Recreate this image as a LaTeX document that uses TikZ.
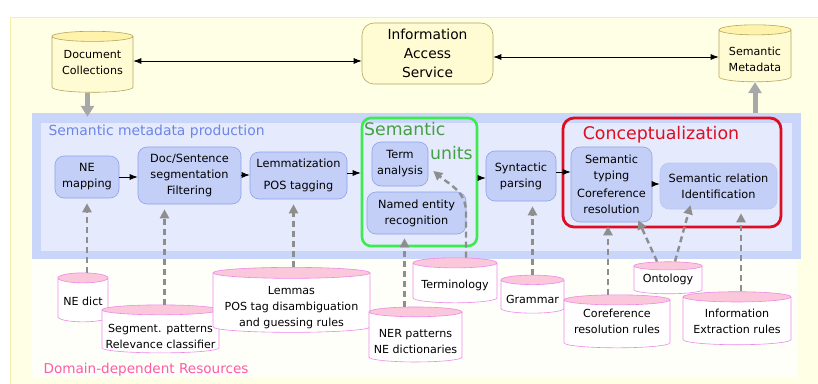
\documentclass[tikz,border=0pt]{standalone}
\usepackage{fontspec}
\setmainfont{DejaVu Sans}
\usetikzlibrary{arrows.meta,shapes.geometric}

\definecolor{bgyellow}{HTML}{FFFFE6}
\definecolor{bgline}{HTML}{F2F0A8}
\definecolor{bandblue}{HTML}{C9D5F9}
\definecolor{bandinner}{HTML}{E5EAFC}
\definecolor{reswhite}{HTML}{FFFFFA}
\definecolor{procfill}{HTML}{C3CFF7}
\definecolor{procline}{HTML}{8CA2EC}
\definecolor{topfill}{HTML}{FFFBD2}
\definecolor{topend}{HTML}{FFF3AC}
\definecolor{topline}{HTML}{B4A660}
\definecolor{resend}{HTML}{FAC8DA}
\definecolor{resline}{HTML}{EE88E8}
\definecolor{unitgreen}{HTML}{3CEB50}
\definecolor{unittext}{HTML}{45A045}
\definecolor{conceptred}{HTML}{DD0E22}
\definecolor{prodblue}{HTML}{6C86E8}
\definecolor{domainpink}{HTML}{FF5AA5}
\definecolor{biggray}{HTML}{A8A8A8}
\definecolor{feedgray}{HTML}{8E8E8E}

\tikzset{
    proc/.style={draw=procline, fill=procfill, rounded corners=9pt, line width=0.6pt,
        align=center, inner sep=0pt, font=\fontsize{11.3}{16}\selectfont},
    store/.style={cylinder, shape border rotate=90, cylinder uses custom fill,
        line width=0.6pt, inner sep=0pt},
    cylsize/.style 2 args={inner xsep=#1*0.5, minimum width=#1, minimum height=#2},
    topstore/.style={store, draw=topline, cylinder body fill=topfill, cylinder end fill=topend},
    resstore/.style={store, draw=resline, cylinder body fill=white, cylinder end fill=resend},
    storetext/.style={align=center, inner sep=0pt, yshift=#1, font=\fontsize{11.1}{16}\selectfont},
    flow/.style={-{Latex[length=8pt,width=6pt]}, line width=0.8pt},
    twoway/.style={{Latex[length=8pt,width=6pt]}-{Latex[length=8pt,width=6pt]}, line width=0.8pt},
    bigup/.style={draw=biggray, line width=5pt, -{Triangle[length=11pt,width=13pt]}},
    feed/.style={draw=feedgray, line width=2.4pt, dash pattern=on 6pt off 4pt,
        -{Triangle[length=9pt,width=9pt]}},
}

\begin{document}
\begin{tikzpicture}[x=1pt,y=-1pt]
    \useasboundingbox (0,0) rectangle (818,383);
    \fill[white] (0,0) rectangle (818,383);
    \draw[fill=bgyellow, draw=bgline, line width=1pt] (10,17) rectangle (822,388);
    % bands
    \node[fill=bandblue, minimum width=769, minimum height=146, inner sep=0pt] (meta-band) at (416.5,186) {};
    \fill[bandinner] (41,123) rectangle (792,251);
    \fill[reswhite] (32,259) rectangle (797,377);
    \node[anchor=west, text=prodblue, font=\fontsize{13.9}{16}\selectfont] (prod-title) at (45,132) {Semantic metadata production};
    \node[anchor=west, text=domainpink, font=\fontsize{13.6}{16}\selectfont] (res-title) at (40,370) {Domain-dependent Resources};

    % top row
    \node[topstore, cylsize={81}{61}, aspect=0.125,
        label={[storetext=4]center:{Document\\Collections}}] (doc-coll) at (92.5,67) {};
    \node[draw=topline, fill=topfill, rounded corners=12pt, line width=0.6pt, align=center,
        minimum width=131, minimum height=61, font=\fontsize{13.8}{19}\selectfont] (info-access) at (427.5,53.5) {Information\\Access\\Service};
    \node[topstore, cylsize={72}{57}, aspect=0.14,
        label={[storetext=-1]center:{Semantic\\Metadata}}] (sem-meta) at (755,58.5) {};
    \draw[twoway] (doc-coll.east |- 0,61) -- (info-access.west |- 0,61);
    \draw[twoway] (info-access.east |- 0,57) -- (sem-meta.west |- 0,57);
    \draw[bigup] ([xshift=-5]doc-coll.south) -- ([xshift=-5,yshift=-4]doc-coll.south |- meta-band.north);
    \draw[bigup] (sem-meta.south |- meta-band.north) -- (sem-meta.south);

    % grouping boxes
    \node[draw=unitgreen, line width=2.6pt, rounded corners=9pt, minimum width=115, minimum height=128] (sem-units) at (419.5,182) {};
    \node[anchor=west, text=unittext, font=\fontsize{17.3}{18}\selectfont, inner sep=0pt] (units-a) at (364,129) {Semantic};
    \node[anchor=west, text=unittext, font=\fontsize{17.3}{18}\selectfont, inner sep=0pt] (units-b) at (430,153) {units};
    \node[draw=conceptred, line width=2.8pt, rounded corners=11pt, minimum width=218, minimum height=109] (concept) at (672,172.5) {};
    \node[text=conceptred, font=\fontsize{17.4}{18}\selectfont, inner sep=0pt] (concept-title) at (661,135) {Conceptualization};

    % processing steps
    \node[proc, minimum width=64, minimum height=42] (ne-map) at (87,177) {NE\\mapping};
    \node[proc, minimum width=103, minimum height=57] (doc-seg) at (189.5,175.5) {Doc/Sentence\\segmentation\\Filtering};
    \node[proc, minimum width=97, minimum height=47] (lemma) at (298.5,175.5) {Lemmatization\\[6pt]POS tagging};
    \node[proc, minimum width=56, minimum height=44] (term) at (400,164) {Term\\analysis};
    \node[proc, minimum width=99, minimum height=42] (ner) at (416.5,213) {Named entity\\recognition};
    \node[proc, minimum width=70, minimum height=50] (syntax) at (521,176) {Syntactic\\parsing};
    \node[proc, minimum width=81, minimum height=75] (sem-type) at (611.5,184.5) {Semantic\\typing\\[2pt]Coreference\\resolution};
    \node[proc, draw=procline!60, minimum width=117, minimum height=46] (sem-rel) at (718.5,186) {Semantic relation\\Identification};

    \draw[flow] (ne-map.east |- 0,177) -- (doc-seg.west |- 0,177);
    \draw[flow] (doc-seg.east |- 0,175) -- (lemma.west |- 0,175);
    \draw[flow] (lemma.east |- 0,173) -- (sem-units.west |- 0,173);
    \draw[flow] (sem-units.east |- 0,178) -- (syntax.west |- 0,178);
    \draw[flow] (syntax.east |- 0,172) -- (sem-type.west |- 0,172);
    \draw[flow] (sem-type.east |- 0,184) -- (sem-rel.west |- 0,184);

    % resources
    \node[resstore, cylsize={50}{49}, aspect=0.2,
        label={[storetext=1]center:NE dict}] (ne-dict) at (83,302.5) {};
    \node[resstore, cylsize={117}{48}, aspect=0.085,
        label={[storetext=-2]center:{Segment. patterns\\Relevance classifier}}] (seg-pat) at (160.5,334) {};
    \node[resstore, cylsize={157}{65}, aspect=0.07,
        label={[storetext=-2]center:{Lemmas\\POS tag disambiguation\\and guessing rules}}] (lemmas) at (291.5,305.5) {};
    \node[resstore, cylsize={93}{55}, aspect=0.105,
        label={[storetext=-2]center:{NER patterns\\NE dictionaries}}] (ner-pat) at (415.5,339.5) {};
    \node[resstore, cylsize={84}{45}, aspect=0.12,
        label={[storetext=0]center:Terminology}] (termin) at (455,285.5) {};
    \node[resstore, cylsize={63}{38}, aspect=0.15,
        label={[storetext=0]center:Grammar}] (grammar) at (532.5,299) {};
    \node[resstore, cylsize={106}{53}, aspect=0.095,
        label={[storetext=5]center:{Coreference\\resolution rules}}] (coref) at (617,326.5) {};
    \node[resstore, cylsize={68}{32}, aspect=0.12,
        label={[storetext=3]center:Ontology}] (ontology) at (668,282) {};
    \node[resstore, cylsize={108}{53}, aspect=0.095,
        label={[storetext=2]center:{Information\\Extraction rules}}] (ie-rules) at (737,323.5) {};

    \draw[feed] (ne-map.south |- ne-dict.north) -- ([yshift=-5]ne-map.south);
    \draw[feed] ([xshift=4]seg-pat.north) -- ([xshift=4,yshift=-5]seg-pat.north |- doc-seg.south);
    \draw[feed] ([xshift=2]lemmas.north) -- ([xshift=2,yshift=-5]lemmas.north |- lemma.south);
    \draw[feed] ([xshift=-11]ner-pat.north) -- ([xshift=-11,yshift=-4]ner-pat.north |- ner.south);
    \draw[feed] ([xshift=11]termin.north) -- ([xshift=11]termin.north |- 0,212) to[out=90,in=-40] ([shift={(5,7)}]term.east);
    \draw[feed] (grammar.north) -- ([yshift=-5]grammar.north |- syntax.south);
    \draw[feed] ([xshift=-9]coref.north) -- ([xshift=-9,yshift=-4]coref.north |- sem-type.south);
    \draw[feed] ([xshift=-11]ontology.north) -- ([shift={(-14,-2)}]sem-type.south east);
    \draw[feed] ([xshift=7]ontology.north) -- ([xshift=-28,yshift=4]sem-rel.south);
    \draw[feed] ([xshift=4]ie-rules.north) -- ([xshift=4,yshift=-4]ie-rules.north |- sem-rel.south);
\end{tikzpicture}
\end{document}
